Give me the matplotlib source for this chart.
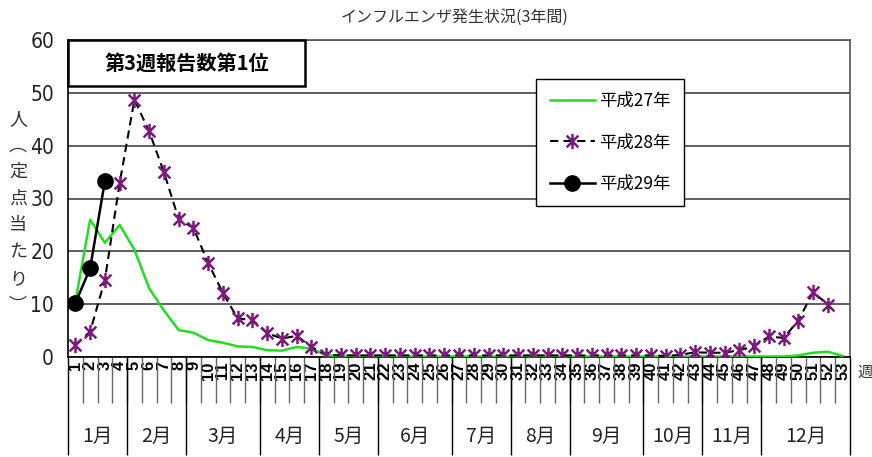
import matplotlib
matplotlib.use('Agg')
import matplotlib.pyplot as plt
from matplotlib.path import Path
from matplotlib.patches import Rectangle
from matplotlib import font_manager

plt.rcParams['font.family'] = ['Noto Sans CJK JP', 'DejaVu Sans']

_fonts = font_manager.fontManager.ttflist
_names = {f.name for f in _fonts}
if 'Liberation Sans Narrow' in _names:
    NUM_FONT = dict(fontfamily='Liberation Sans Narrow')
elif any(f.name == 'DejaVu Sans' and f.stretch == 'condensed' for f in _fonts):
    NUM_FONT = dict(fontfamily='DejaVu Sans', fontstretch='condensed')
else:
    NUM_FONT = dict(fontfamily='Liberation Sans')

# ---------------- data ----------------
weeks = list(range(1, 54))
week_labels = [str(w) for w in weeks]

h27 = [10.5, 26.0, 21.6, 25.0, 20.3, 13.0, 8.8, 5.1, 4.6, 3.2, 2.7, 2.0, 1.9, 1.3, 1.2, 1.9, 1.6,
       0.3, 0.2, 0.2, 0.1, 0.1, 0.1, 0.1, 0.1, 0.1, 0.1, 0.1, 0.1, 0.1, 0.1, 0.1, 0.1, 0.1,
       0.1, 0.1, 0.1, 0.1, 0.1, 0.1, 0.1, 0.1, 0.1, 0.1, 0.1, 0.1, 0.1,
       0.1, 0.1, 0.3, 0.8, 1.0, 0.2]
h28 = [2.3, 4.8, 14.6, 32.9, 48.7, 42.7, 35.0, 26.1, 24.4, 17.8, 12.1, 7.3, 7.0, 4.5, 3.5, 4.0, 1.9,
       0.4, 0.3, 0.3, 0.3, 0.3, 0.3, 0.3, 0.3, 0.3, 0.3, 0.3, 0.3, 0.3, 0.3, 0.3, 0.3, 0.3,
       0.3, 0.3, 0.3, 0.3, 0.3, 0.3, 0.2, 0.4, 0.9, 0.8, 0.8, 1.3, 2.0, 3.9, 3.6, 6.9, 12.3, 9.9]
h29 = [10.2, 16.8, 33.3]

series_labels = ['平成27年', '平成28年', '平成29年']
months = ['1月', '2月', '3月', '4月', '5月', '6月', '7月', '8月', '9月', '10月', '11月', '12月']
month_weeks = [4, 4, 5, 4, 4, 5, 4, 4, 5, 4, 4, 6]
ytick_vals = [0, 10, 20, 30, 40, 50, 60]
ytick_labels = ['0', '10', '20', '30', '40', '50', '60']

title = 'インフルエンザ発生状況(3年間)'
note = '第3週報告数第1位'
ylabel = '人\n︵\n定\n点\n当\nた\nり\n︶'

# ---------------- figure ----------------
W, H = 872, 457
fig = plt.figure(figsize=(W / 100, H / 100), dpi=100)
ax = fig.add_axes([68 / W, 1 - 357 / H, 782 / W, 317 / H])
ax.set_xlim(0.5, 53.5)
ax.set_ylim(0, 60)

star = Path([(-1, -1), (1, 1), (-1, 1), (1, -1), (0, -1.3), (0, 1.3)],
            [Path.MOVETO, Path.LINETO] * 3)

ax.plot(weeks[:len(h27)], h27, color='#22dd22', lw=1.8, zorder=3, label=series_labels[0])
ax.plot(weeks[:len(h28)], h28, color='black', lw=1.5, ls=(0, (4, 2.5)),
        marker=star, markersize=11, markeredgecolor='#7a1a7a', markerfacecolor='none',
        markeredgewidth=1.8, zorder=4, label=series_labels[1])
ax.plot(weeks[:len(h29)], h29, color='black', lw=1.8, marker='o', markersize=11,
        markerfacecolor='black', markeredgecolor='black', zorder=5, label=series_labels[2])

# y axis
ax.set_yticks(ytick_vals)
ax.set_yticklabels(ytick_labels, fontsize=15, color='#222', **NUM_FONT)
ax.tick_params(axis='y', length=0, pad=10)
ax.yaxis.grid(True, color='#333333', lw=1.1)
ax.set_axisbelow(True)

# x axis
ax.set_xticks(weeks)
ax.set_xticklabels(week_labels, rotation=90, fontsize=12, fontweight='bold',
                   fontfamily='Liberation Sans')
ax.tick_params(axis='x', which='major', length=0, pad=3)
ax.set_xticks([w + 0.5 for w in weeks[:-1]], minor=True)
ax.tick_params(axis='x', which='minor', length=33, width=1, color='#666666')

# month separators and labels
bounds = [0.5]
for n in month_weeks:
    bounds.append(bounds[-1] + n)
xt = ax.get_xaxis_transform()
ax.vlines(bounds, -0.31, 0, transform=xt, colors='black', lw=1.0, clip_on=False)
for m, a, b in zip(months, bounds[:-1], bounds[1:]):
    ax.text((a + b) / 2, -0.252, m, transform=xt, ha='center', va='center',
            fontsize=14, color='#222')

for s in ['left', 'bottom']:
    ax.spines[s].set_color('black')
    ax.spines[s].set_linewidth(1.2)
for s in ['top', 'right']:
    ax.spines[s].set_color('#555555')
    ax.spines[s].set_linewidth(1.2)

# annotation box
ax.add_patch(Rectangle((0, 0.855), 0.303, 0.145, transform=ax.transAxes, facecolor='white',
                       edgecolor='black', lw=1.8, zorder=6, clip_on=False))
ax.text(0.1516, 0.9275, note, transform=ax.transAxes, ha='center', va='center',
        fontsize=14.5, fontweight='bold', zorder=7)

# legend
leg = ax.legend(loc='center', bbox_to_anchor=((610 - 68) / 782, (357 - 142.5) / 317),
                fontsize=12.5, frameon=True, fancybox=False, edgecolor='black',
                framealpha=1, borderpad=0.75, labelspacing=1.35, handlelength=2.6,
                handletextpad=0.25)
leg.get_frame().set_linewidth(1.0)
leg.set_zorder(8)

fig.text(455 / W, 1 - 17 / H, title, ha='center', va='center', fontsize=11.5, color='#333')
fig.text(18 / W, 1 - 212 / H, ylabel, ha='center', va='center', fontsize=13,
         linespacing=1.62, color='#333')
fig.text(857 / W, 1 - 372 / H, '週', ha='left', va='center', fontsize=11, color='#333')

fig.savefig('out.png', dpi=100)
